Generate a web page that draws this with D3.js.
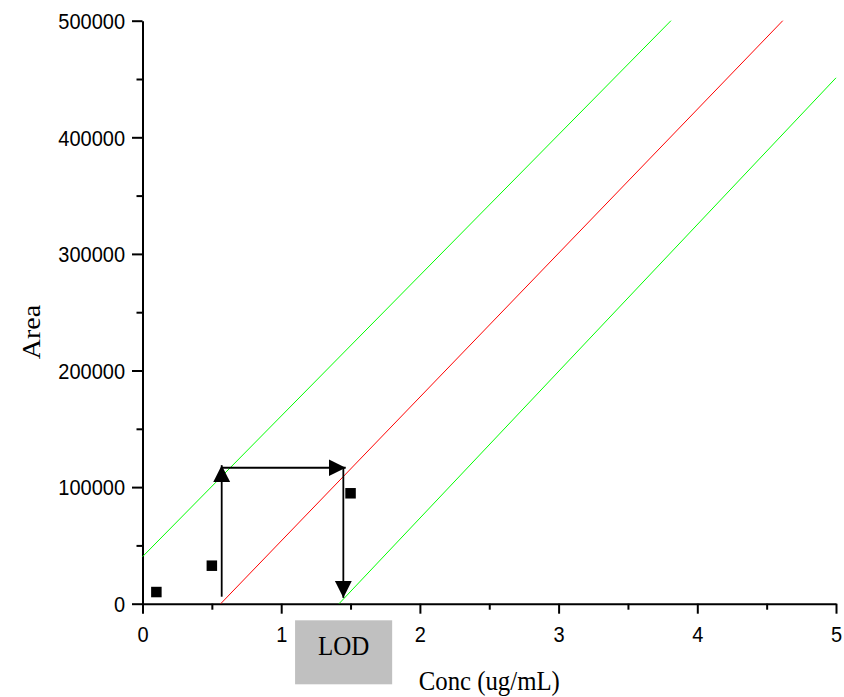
<!DOCTYPE html>
<html lang="en">
<head>
    <meta charset="UTF-8">
    <title>Area vs Conc - LOD</title>
    <script src="https://cdnjs.cloudflare.com/ajax/libs/d3/7.8.5/d3.min.js"></script>
    <style>
        body { margin: 0; background: #fff; }
        svg { display: block; }
        .tick line { stroke: #000; stroke-width: 2; }
        .domain { stroke: #000; stroke-width: 2; }
    </style>
</head>
<body>
    <svg id="chart" width="844" height="697"></svg>
    <script>
        // measured points
        const concX = [0.1, 0.5, 1.5];
        const areaY = [10000, 32600, 94700];

        // fitted line and bands (end points)
        const fitX = [0.564, 4.616];
        const fitY = [0, 500000];
        const upperX = [0, 3.81];
        const upperY = [40300, 500000];
        const lowerX = [1.417, 5];
        const lowerY = [0, 451000];

        // LOD construction arrows
        const arrowUpX = [0.571, 0.571];
        const arrowUpY = [6000, 118800];
        const arrowRightX = [0.571, 1.465];
        const arrowRightY = [116600, 116600];
        const arrowDownX = [1.448, 1.448];
        const arrowDownY = [116600, 5000];

        const xMajor = [0, 1, 2, 3, 4, 5];
        const xMinor = [0.5, 1.5, 2.5, 3.5, 4.5];
        const yMajor = [0, 100000, 200000, 300000, 400000, 500000];
        const yMinor = [50000, 150000, 250000, 350000, 450000];

        const svg = d3.select("#chart");
        const x = d3.scaleLinear().domain([0, 5]).range([142.5, 836]);
        const y = d3.scaleLinear().domain([0, 500000]).range([603.7, 20.7]);

        // arrow heads
        const defs = svg.append("defs");
        defs.append("marker")
            .attr("id", "head")
            .attr("markerUnits", "userSpaceOnUse")
            .attr("markerWidth", 18)
            .attr("markerHeight", 18)
            .attr("viewBox", "0 0 18 18")
            .attr("refX", 17)
            .attr("refY", 9)
            .attr("orient", "auto")
            .append("path")
            .attr("d", "M0,0.5 L17,9 L0,17.5 Z")
            .attr("fill", "#000");

        // minor ticks
        svg.append("g")
            .attr("transform", `translate(0,${y(0)})`)
            .call(d3.axisBottom(x).tickValues(xMinor).tickSize(6).tickFormat(""))
            .call(g => g.select(".domain").remove());
        svg.append("g")
            .attr("transform", `translate(${x(0)},0)`)
            .call(d3.axisLeft(y).tickValues(yMinor).tickSize(6).tickFormat(""))
            .call(g => g.select(".domain").remove());

        // major axes
        const gx = svg.append("g")
            .attr("transform", `translate(0,${y(0)})`)
            .call(d3.axisBottom(x).tickValues(xMajor).tickSize(10).tickSizeOuter(0).tickPadding(11).tickFormat(d3.format("d")));
        gx.selectAll("text")
            .attr("font-family", "Arial, 'Liberation Sans', sans-serif")
            .attr("font-size", 20)
            .attr("fill", "#000")
            .attr("transform", "scale(1,1.08)");

        const gy = svg.append("g")
            .attr("transform", `translate(${x(0)},0)`)
            .call(d3.axisLeft(y).tickValues(yMajor).tickSize(10.5).tickSizeOuter(0).tickPadding(7).tickFormat(d3.format("d")));
        gy.selectAll("text")
            .attr("font-family", "Arial, 'Liberation Sans', sans-serif")
            .attr("font-size", 20)
            .attr("fill", "#000")
            .attr("dy", "0.36em")
            .attr("transform", "scale(1,1.08)");

        // lines
        const line = d3.line().x(d => x(d[0])).y(d => y(d[1]));
        const lines = [
            { xs: upperX, ys: upperY, color: "#00ff00" },
            { xs: fitX, ys: fitY, color: "#ff0000" },
            { xs: lowerX, ys: lowerY, color: "#00ff00" }
        ];
        svg.selectAll("path.fit")
            .data(lines)
            .enter()
            .append("path")
            .attr("class", "fit")
            .attr("d", d => line(d3.zip(d.xs, d.ys)))
            .attr("fill", "none")
            .attr("stroke", d => d.color)
            .attr("stroke-width", 1);

        // points
        svg.selectAll("rect.pt")
            .data(d3.zip(concX, areaY))
            .enter()
            .append("rect")
            .attr("class", "pt")
            .attr("x", d => x(d[0]) - 5.25)
            .attr("y", d => y(d[1]) - 5.25)
            .attr("width", 10.5)
            .attr("height", 10.5)
            .attr("fill", "#000");

        // arrows
        const arrows = [
            { xs: arrowUpX, ys: arrowUpY },
            { xs: arrowRightX, ys: arrowRightY },
            { xs: arrowDownX, ys: arrowDownY }
        ];
        svg.selectAll("path.arrow")
            .data(arrows)
            .enter()
            .append("path")
            .attr("class", "arrow")
            .attr("d", d => line(d3.zip(d.xs, d.ys)))
            .attr("fill", "none")
            .attr("stroke", "#000")
            .attr("stroke-width", 1.8)
            .attr("marker-end", "url(#head)");

        // LOD box
        svg.append("rect")
            .attr("x", x(1.1))
            .attr("y", 620.3)
            .attr("width", x(1.8) - x(1.1))
            .attr("height", 64)
            .attr("fill", "#c0c0c0");
        svg.append("text")
            .attr("transform", `translate(${x(1.45)},655) scale(1,1.1)`)
            .attr("text-anchor", "middle")
            .attr("font-family", "'Times New Roman', 'Liberation Serif', serif")
            .attr("font-size", 25)
            .text("LOD");

        // axis titles
        svg.append("text")
            .attr("transform", `translate(${x(2.5)},689.5) scale(1,1.1)`)
            .attr("text-anchor", "middle")
            .attr("font-family", "'Times New Roman', 'Liberation Serif', serif")
            .attr("font-size", 24.8)
            .text("Conc (ug/mL)");
        svg.append("text")
            .attr("transform", "translate(40,332) rotate(-90) scale(1.08,1)")
            .attr("text-anchor", "middle")
            .attr("font-family", "'Times New Roman', 'Liberation Serif', serif")
            .attr("font-size", 26)
            .text("Area");
    </script>
</body>
</html>
